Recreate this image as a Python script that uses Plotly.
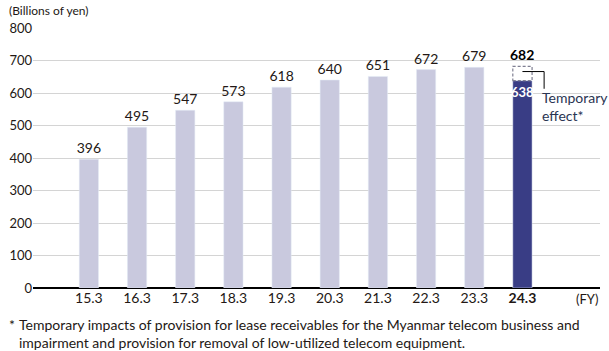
import plotly.graph_objects as go

years = ["15.3", "16.3", "17.3", "18.3", "19.3", "20.3", "21.3", "22.3", "23.3", "24.3"]
values = [396, 495, 547, 573, 618, 640, 651, 672, 679, 638]
total_last = 682
temp_label = "Temporary<br>effect*"
yticks = [0, 100, 200, 300, 400, 500, 600, 700, 800]

FONT = "Lato"
TXT = "#231815"
LIGHT = "#c9c9de"
DARK = "#393d85"

idx = list(range(len(years)))
n = len(years) - 1

fig = go.Figure()
fig.add_trace(go.Bar(
    x=idx[:n], y=values[:n], width=0.4, marker_color=LIGHT,
    text=[str(v) for v in values[:n]], textposition="outside", constraintext="none",
    textfont=dict(size=14, color=TXT, family=FONT), cliponaxis=False,
    hoverinfo="skip"))
fig.add_trace(go.Bar(
    x=[idx[n]], y=[values[n]], width=0.4, marker_color=DARK,
    text=[f"<b>{values[n]}</b>"], textposition="inside", insidetextanchor="end",
    textangle=0, constraintext="none",
    textfont=dict(size=13, color="white", family=FONT), hoverinfo="skip"))

# dashed box for temporary effect
fig.add_shape(type="rect", x0=idx[n] - 0.2, x1=idx[n] + 0.2, y0=values[n], y1=total_last,
              line=dict(color="#7f7f92", width=1.2, dash="3px,2px"), fillcolor="rgba(0,0,0,0)",
              layer="above")
mid = (values[n] + total_last) / 2
fig.add_shape(type="path",
              path=f"M {idx[n]} {mid + 6} L {idx[n] + 0.45} {mid + 6} L {idx[n] + 0.45} {values[n] - 25}",
              line=dict(color="black", width=1), layer="above")
fig.add_annotation(x=idx[n] + 0.36, y=values[n] - 18, text=temp_label, showarrow=False,
                   xanchor="left", yanchor="top", align="left",
                   font=dict(size=14, color="#2a3552", family=FONT))
fig.add_annotation(x=idx[n], y=total_last, text=f"<b>{total_last}</b>", showarrow=False,
                   yanchor="bottom", yshift=1, font=dict(size=14, color="black", family=FONT))

fig.add_annotation(x=10.35, y=0, text="(FY)", showarrow=False, yanchor="top", yshift=-1,
                   font=dict(size=13, color=TXT, family=FONT))
fig.add_annotation(xref="paper", yref="paper", x=-0.046, y=1.03, text="(Billions of yen)",
                   showarrow=False, xanchor="left", yanchor="bottom",
                   font=dict(size=12, color=TXT, family=FONT))
fig.add_annotation(xref="paper", yref="paper", x=-0.046, y=-0.1, showarrow=False,
                   xanchor="left", yanchor="top", text="*",
                   font=dict(size=14, color=TXT, family=FONT))
fig.add_annotation(xref="paper", yref="paper", x=-0.028, y=-0.1, showarrow=False,
                   xanchor="left", yanchor="top", align="left",
                   text="Temporary impacts of provision for lease receivables for the Myanmar telecom business and<br>"
                        "impairment and provision for removal of low-utilized telecom equipment.",
                   font=dict(size=14, color=TXT, family=FONT))

ticktext = years[:n] + [f"<b>{years[n]}</b>"]
fig.update_xaxes(tickmode="array", tickvals=idx, ticktext=ticktext, range=[-1.16, 10.61],
                 showgrid=False, showline=False, zeroline=False, ticks="",
                 tickfont=dict(size=14, color=TXT, family=FONT))
fig.update_yaxes(range=[0, 800], tickvals=yticks, showgrid=True, gridcolor="#d4d4d4",
                 gridwidth=1, zeroline=True, zerolinecolor="black", zerolinewidth=1.5,
                 ticks="", tickfont=dict(size=13, color=TXT, family=FONT))
fig.update_layout(width=609, height=351, margin=dict(l=30, r=9, t=28, b=63),
                  plot_bgcolor="white", paper_bgcolor="white", showlegend=False,
                  barmode="overlay", font=dict(family=FONT))
fig.write_html("out.html")
